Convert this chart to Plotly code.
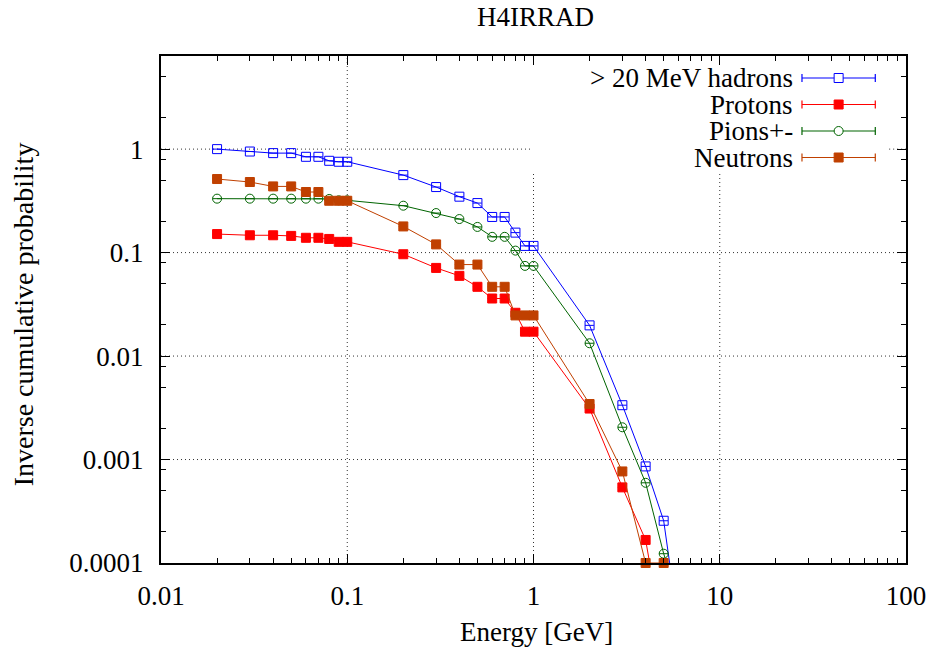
import numpy as np
import plotly.graph_objects as go

# ---------------- data ----------------
energy = [0.02, 0.03, 0.04, 0.05, 0.06, 0.07, 0.08, 0.09, 0.1,
          0.2, 0.3, 0.4, 0.5, 0.6, 0.7, 0.8, 0.9, 1,
          2, 3, 4, 5, 6]
hadrons = [1.0, 0.948, 0.915, 0.915, 0.843, 0.843, 0.771, 0.755, 0.755,
           0.561, 0.430, 0.347, 0.301, 0.221, 0.221, 0.156, 0.116, 0.116,
           0.0198, 0.00335, 0.000858, 0.000256, 2.5e-5]
protons = [0.151, 0.147, 0.147, 0.145, 0.139, 0.139, 0.1355, 0.127, 0.127,
           0.0964, 0.0711, 0.0596, 0.0467, 0.036, 0.036, 0.0262, 0.0172, 0.0172,
           0.00311, 0.000538, 0.000167, 1.7e-5, None]
pions = [0.332, 0.332, 0.332, 0.332, 0.332, 0.332, 0.33, 0.32, 0.32,
         0.284, 0.241, 0.211, 0.177, 0.142, 0.142, 0.1045, 0.0744, 0.0744,
         0.0133, 0.00205, 0.000596, 0.000123, 4.5e-5]
neutrons = [0.514, 0.481, 0.436, 0.436, 0.385, 0.385, 0.317, 0.317, 0.317,
            0.179, 0.120, 0.0766, 0.0766, 0.0467, 0.0467, 0.0247, 0.0247, 0.0247,
            0.00344, 0.000767, 0.0001, 0.0001, None]

series_names = ["> 20 MeV hadrons", "Protons", "Pions+-", "Neutrons"]
series_values = [hadrons, protons, pions, neutrons]

x_tickvals = [0.01, 0.1, 1, 10, 100]
x_ticktext = ["0.01", "0.1", "1", "10", "100"]
y_tickvals = [0.0001, 0.001, 0.01, 0.1, 1]
y_ticktext = ["0.0001", "0.001", "0.01", "0.1", "1"]

title_text = "H4IRRAD"
x_title = "Energy [GeV]"
y_title = "Inverse cumulative probability"

# ---------------- styles ----------------
colors = ["#0000ff", "#ff0000", "#006400", "#c04000"]
symbols = ["square-open", "square", "circle-open", "square"]
FONT = "Liberation Serif"
FS = 27

W, H = 938, 651
ML, MR, MT, MB = 161, 25, 56, 88
PW, PH = W - ML - MR, H - MT - MB
XMIN_LOG, XMAX_LOG = -2, 2
YMIN_LOG, YMAX_LOG = -4, 0.9

# key box (pixels) that hides the grid
KEY_X0, KEY_X1, KEY_Y0, KEY_Y1 = 535, 896, MT, 173


def px2paper_x(px):
    return (px - ML) / PW


def py2paper_y(py):
    return (H - MB - py) / PH


def xval2px(v):
    return ML + (np.log10(v) - XMIN_LOG) / (XMAX_LOG - XMIN_LOG) * PW


def yval2py(v):
    return MT + (YMAX_LOG - np.log10(v)) / (YMAX_LOG - YMIN_LOG) * PH


fig = go.Figure()
ymin = 10 ** YMIN_LOG
for name, vals, col, sym in zip(series_names, series_values, colors, symbols):
    xs = np.array(energy, dtype=float)
    ys = np.array([np.nan if v is None else v for v in vals], dtype=float)
    fig.add_trace(go.Scatter(
        x=xs, y=ys, mode="lines", line=dict(color=col, width=1),
        showlegend=False, cliponaxis=True, connectgaps=False, hoverinfo="skip"))
    keep = ys >= ymin * 0.999
    fig.add_trace(go.Scatter(
        x=xs[keep], y=ys[keep], mode="markers", name=name, showlegend=False,
        cliponaxis=False,
        marker=dict(symbol=sym, size=9, color=col, line=dict(color=col, width=1)),
        error_x=dict(type="percent", value=5.5, width=0, thickness=1, color=col)))

minor_x = [m * 10 ** k for k in range(-2, 2) for m in range(2, 10)]
minor_y = [m * 10 ** k for k in range(-5, 1) for m in (2, 5, 8)]

axis_common = dict(
    type="log", showline=True, linecolor="black", linewidth=2, mirror="allticks",
    ticks="inside", ticklen=9, tickwidth=1, tickcolor="black",
    showgrid=False, zeroline=False,
    tickfont=dict(family=FONT, size=FS, color="black"),
)
fig.update_xaxes(**axis_common, range=[XMIN_LOG, XMAX_LOG], tickmode="array",
                 tickvals=x_tickvals, ticktext=x_ticktext, ticklabelstandoff=8,
                 minor=dict(tickvals=minor_x, ticks="inside", ticklen=5,
                            tickcolor="black", showgrid=False))
fig.update_yaxes(**axis_common, range=[YMIN_LOG, YMAX_LOG], tickmode="array",
                 tickvals=y_tickvals, ticktext=y_ticktext, ticklabelstandoff=10,
                 minor=dict(tickvals=minor_y, ticks="inside", ticklen=5,
                            tickcolor="black", showgrid=False))

shapes = []
annotations = []
GRID = dict(color="#333333", width=1, dash="1px,3px")

# vertical grid lines at inner major x ticks
for v in x_tickvals[1:-1]:
    pxv = xval2px(v)
    y_top = 1.0
    if KEY_X0 <= pxv <= KEY_X1:
        y_top = py2paper_y(KEY_Y1)
    shapes.append(dict(type="line", xref="x", yref="paper", x0=v, x1=v,
                       y0=0, y1=y_top, line=GRID, layer="below"))
# horizontal grid lines at inner major y ticks
for v in y_tickvals[1:]:
    pyv = yval2py(v)
    if KEY_Y0 <= pyv <= KEY_Y1:
        segs = [(0, px2paper_x(KEY_X0)), (px2paper_x(KEY_X1), 1)]
    else:
        segs = [(0, 1)]
    for a, b in segs:
        shapes.append(dict(type="line", xref="paper", yref="y", x0=a, x1=b,
                           y0=v, y1=v, line=GRID, layer="below"))

row_y = [78, 104.5, 131, 157.5]
for name, col, sym, ry in zip(series_names, colors, symbols, row_y):
    yp = py2paper_y(ry)
    annotations.append(dict(text=name, xref="paper", yref="paper",
                            x=px2paper_x(801), y=yp, xanchor="right", yanchor="middle",
                            showarrow=False, font=dict(family=FONT, size=FS, color="black")))
    x0p, x1p = px2paper_x(808), px2paper_x(882)
    shapes.append(dict(type="line", xref="paper", yref="paper", x0=x0p, x1=x1p,
                       y0=yp, y1=yp, line=dict(color=col, width=1.2)))
    for xc in (x0p, x1p):
        shapes.append(dict(type="line", xref="paper", yref="paper",
                           xsizemode="pixel", ysizemode="pixel", xanchor=xc, yanchor=yp,
                           x0=0, x1=0, y0=-4, y1=4, line=dict(color=col, width=1.2)))
    xm = px2paper_x(845)
    filled = not sym.endswith("open")
    shapes.append(dict(type="circle" if sym.startswith("circle") else "rect",
                       xref="paper", yref="paper",
                       xsizemode="pixel", ysizemode="pixel", xanchor=xm, yanchor=yp,
                       x0=-4.5, x1=4.5, y0=-4.5, y1=4.5,
                       fillcolor=col if filled else "white",
                       line=dict(color=col, width=1)))

annotations.append(dict(text=title_text, xref="paper", yref="paper",
                        x=px2paper_x(539), y=py2paper_y(17), xanchor="center",
                        yanchor="middle", showarrow=False,
                        font=dict(family=FONT, size=FS, color="black")))
annotations.append(dict(text=x_title, xref="paper", yref="paper",
                        x=px2paper_x(540), y=py2paper_y(632), xanchor="center",
                        yanchor="middle", showarrow=False,
                        font=dict(family=FONT, size=FS, color="black")))
annotations.append(dict(text=y_title, xref="paper", yref="paper",
                        x=px2paper_x(23), y=py2paper_y(314), xanchor="center",
                        yanchor="middle", textangle=-90,
                        showarrow=False, font=dict(family=FONT, size=28, color="black")))

fig.update_layout(
    width=W, height=H, margin=dict(l=ML, r=MR, t=MT, b=MB),
    paper_bgcolor="white", plot_bgcolor="white",
    font=dict(family=FONT, size=FS, color="black"),
    shapes=shapes, annotations=annotations, showlegend=False,
)

fig.write_html("out.html")
